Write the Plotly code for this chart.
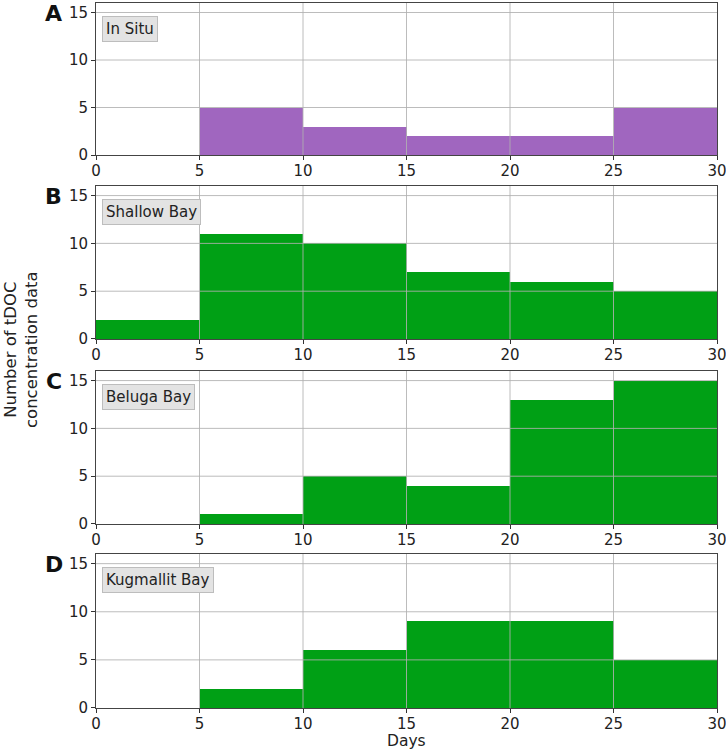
import plotly.graph_objects as go
from plotly.subplots import make_subplots

# bin edges (days) and counts per panel
bin_edges = [0, 5, 10, 15, 20, 25, 30]
panel_letters = ["A", "B", "C", "D"]
site_names = ["In Situ", "Shallow Bay", "Beluga Bay", "Kugmallit Bay"]
in_situ = [0, 5, 3, 2, 2, 5]
shallow_bay = [2, 11, 10, 7, 6, 5]
beluga_bay = [0, 1, 5, 4, 13, 15]
kugmallit_bay = [0, 2, 6, 9, 9, 5]
x_ticks = [0, 5, 10, 15, 20, 25, 30]
y_ticks = [0, 5, 10, 15]

series = [in_situ, shallow_bay, beluga_bay, kugmallit_bay]
colors = ["#a066bf", "#00a015", "#00a015", "#00a015"]

centers = [(a + b) / 2 for a, b in zip(bin_edges[:-1], bin_edges[1:])]
widths = [b - a for a, b in zip(bin_edges[:-1], bin_edges[1:])]

fig = make_subplots(rows=4, cols=1, shared_xaxes=False)

domains = [[0.7844, 1.0], [0.5234, 0.7404], [0.2610, 0.4780], [0.0, 0.2184]]

font = "DejaVu Sans, Liberation Sans, sans-serif"
grid_col = "rgba(176,176,176,0.85)"

for i, vals in enumerate(series):
    r = i + 1
    fig.add_trace(go.Bar(x=centers, y=vals, width=widths,
                         marker=dict(color=colors[i], line=dict(width=0)),
                         showlegend=False, hoverinfo="x+y"),
                  row=r, col=1)
    ax = "" if r == 1 else str(r)
    fig.update_xaxes(range=[0, 30], tickvals=x_ticks, ticks="outside", ticklen=4,
                     tickcolor="#333", showline=True, linecolor="#444", linewidth=1,
                     mirror=True, showgrid=False, zeroline=False,
                     ticklabeloverflow="allow", ticklabelstandoff=-2,
                     tickfont=dict(size=15, color="#222", family=font), row=r, col=1)
    fig.update_yaxes(range=[0, 16], tickvals=y_ticks, ticks="outside", ticklen=4,
                     tickcolor="#333", showline=True, linecolor="#444", linewidth=1,
                     mirror=True, showgrid=False, zeroline=False, domain=domains[i],
                     tickfont=dict(size=15, color="#222", family=font), row=r, col=1)

    # grid drawn above the bars, like the matplotlib original
    for t in x_ticks[1:-1]:
        fig.add_shape(type="line", xref="x" + ax, yref="y" + ax + " domain",
                      x0=t, x1=t, y0=0, y1=1, layer="above",
                      line=dict(color=grid_col, width=1))
    for t in y_ticks[1:]:
        fig.add_shape(type="line", xref="x" + ax + " domain", yref="y" + ax,
                      x0=0, x1=1, y0=t, y1=t, layer="above",
                      line=dict(color=grid_col, width=1))

    # site label box
    fig.add_annotation(text=site_names[i], xref="x" + ax + " domain",
                       yref="y" + ax + " domain", x=0.01, y=0.915,
                       xanchor="left", yanchor="top", showarrow=False,
                       font=dict(size=15, color="#222", family=font),
                       bgcolor="#e3e3e3", bordercolor="#bdbdbd", borderwidth=1,
                       borderpad=3)
    # panel letter
    fig.add_annotation(text="<b>" + panel_letters[i] + "</b>", xref="paper",
                       yref="y" + ax + " domain", x=-0.068, y=0.93,
                       xanchor="center", yanchor="middle", showarrow=False,
                       font=dict(size=22, color="#111", family=font))

fig.add_annotation(text="Number of tDOC<br>concentration data", xref="paper", yref="paper",
                   x=-0.121, y=0.509, xanchor="center", yanchor="middle",
                   textangle=-90, showarrow=False,
                   font=dict(size=16.5, color="#222", family=font))
fig.add_annotation(text="Days", xref="paper", yref="paper", x=0.5, y=-0.0465,
                   xanchor="center", yanchor="middle", showarrow=False,
                   font=dict(size=15.5, color="#222", family=font))

fig.update_layout(width=726, height=751, margin=dict(l=96, r=9, t=3, b=43, autoexpand=False),
                  paper_bgcolor="white", plot_bgcolor="white", bargap=0,
                  font=dict(family=font))

fig.write_html("out.html", config={"displayModeBar": False},
               post_script="document.body.style.margin='0px';")
